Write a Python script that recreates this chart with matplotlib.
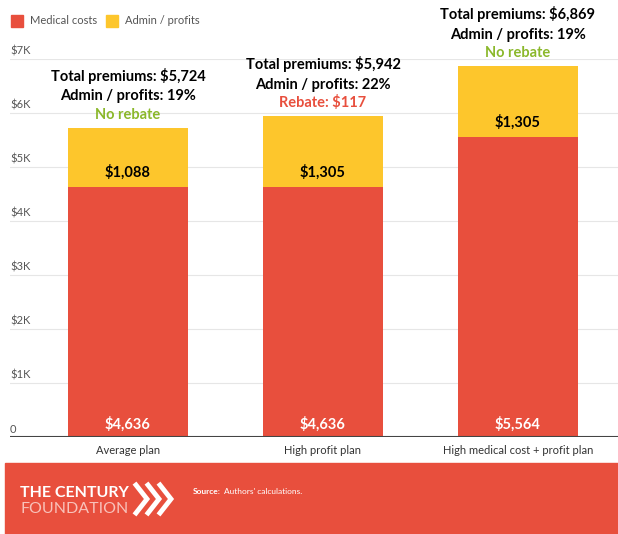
import matplotlib
matplotlib.use("Agg")
import matplotlib.pyplot as plt
from matplotlib.patches import Rectangle
from matplotlib.lines import Line2D

plt.rcParams["font.family"] = ["Lato", "DejaVu Sans"]

# ---------------- data ----------------
plans = ["Average plan", "High profit plan", "High medical cost + profit plan"]
medical = [4636, 4636, 5564]
admin = [1088, 1305, 1305]
totals = [5724, 5942, 6869]
admin_share = [19, 22, 19]
rebates = [0, 117, 0]

RED = "#E84F3D"
YELLOW = "#FDC62C"
GREEN = "#8BB82B"

fig = plt.figure(figsize=(6.18, 5.34), dpi=100)
ax = fig.add_axes([10 / 618, 97 / 534, 608 / 618, 378 / 534])

x = range(len(plans))
ax.bar(x, medical, width=0.615, color=RED, zorder=2)
ax.bar(x, admin, bottom=medical, width=0.615, color=YELLOW, zorder=2)

ax.set_xlim(-0.605, 2.513)
ax.set_ylim(0, 7000)

# gridlines with labels sitting on top of them
for v in range(1000, 7001, 1000):
    ax.axhline(v, color="#e6e6e6", lw=0.8, zorder=1)
    ax.text(-0.605, v + 40, f"${v // 1000}K", fontsize=8, color="#555555",
            ha="left", va="bottom")
ax.text(-0.605, 40, "0", fontsize=8, color="#555555", ha="left", va="bottom")
ax.axhline(0, color="#444444", lw=1.5, zorder=3)
ax.axis("off")

for i in x:
    ax.text(i, 240, f"${medical[i]:,}", color="white", fontsize=10.5,
            fontweight="bold", ha="center", va="center", zorder=4)
    ax.text(i, medical[i] + 260, f"${admin[i]:,}", color="black", fontsize=10.5,
            fontweight="bold", ha="center", va="center", zorder=4)
    ax.text(i, -150, plans[i], color="#333333", fontsize=8, ha="center", va="top")

    # labels stacked above each bar
    top = totals[i] + 110
    if rebates[i]:
        ax.text(i, top, f"Rebate: ${rebates[i]}", color=RED, fontsize=10.5,
                fontweight="bold", ha="center", va="bottom", clip_on=False)
    else:
        ax.text(i, top, "No rebate", color=GREEN, fontsize=10.5,
                fontweight="bold", ha="center", va="bottom", clip_on=False)
    ax.text(i, top + 345, f"Admin / profits: {admin_share[i]}%", color="black",
            fontsize=10.5, fontweight="bold", ha="center", va="bottom", clip_on=False)
    ax.text(i, top + 700, f"Total premiums: ${totals[i]:,}", color="black",
            fontsize=10.5, fontweight="bold", ha="center", va="bottom", clip_on=False)

# legend
fig.patches.append(Rectangle((11 / 618, 1 - 27 / 534), 12 / 618, 12 / 534,
                             color=RED, transform=fig.transFigure))
fig.text(30 / 618, 1 - 21 / 534, "Medical costs", fontsize=8, color="#555555", va="center")
fig.patches.append(Rectangle((106 / 618, 1 - 27 / 534), 12 / 618, 12 / 534,
                             color=YELLOW, transform=fig.transFigure))
fig.text(125 / 618, 1 - 21 / 534, "Admin / profits", fontsize=8, color="#555555", va="center")

# footer band
fig.patches.append(Rectangle((5 / 618, 0), 613 / 618, 71 / 534,
                             color=RED, transform=fig.transFigure))
fig.text(20 / 618, 1 - 493 / 534, "THE CENTURY", fontsize=11.5, fontweight="bold",
         color="white", va="center")
fig.text(20 / 618, 1 - 509 / 534, "FOUNDATION", fontsize=11.5, color="#F8C2BA", va="center")

# three chevrons next to the logo
for k in range(3):
    x0 = 136 + k * 12
    xs = [x0 / 618, (x0 + 11) / 618, x0 / 618]
    ys = [1 - 485 / 534, 1 - 499 / 534, 1 - 513 / 534]
    fig.lines.append(Line2D(xs, ys, color="white", lw=3.5, solid_joinstyle="miter",
                            transform=fig.transFigure))

fig.text(193 / 618, 1 - 491 / 534, "Source:", fontsize=6, fontweight="bold",
         color="white", va="center")
fig.text(224 / 618, 1 - 491 / 534, "Authors' calculations.", fontsize=6,
         color="white", va="center")

fig.savefig("out.png", dpi=100)
